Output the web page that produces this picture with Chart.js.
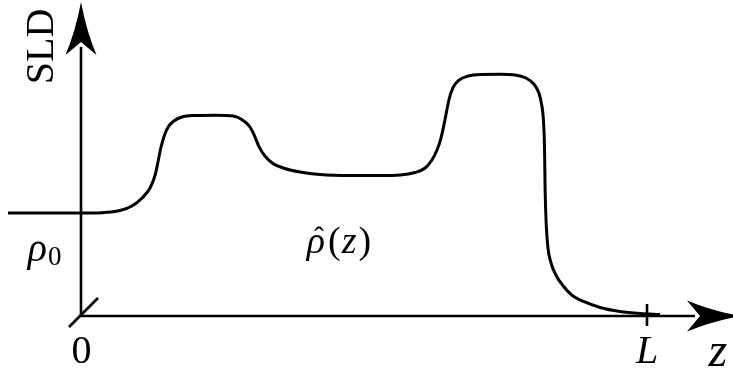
<!DOCTYPE html>
<html>
<head>
<meta charset="utf-8">
<script src="https://cdn.jsdelivr.net/npm/chart.js@4"></script>
<style>
    html, body { margin: 0; padding: 0; background: #fff; }
    #profile { display: block; }
    .warm { position: absolute; left: -999px; top: 0; font-family: "Liberation Serif", serif; }
</style>
</head>
<body>
<span class="warm">SLD 0 <i>L z ρ</i></span>
<canvas id="profile" width="733" height="373"></canvas>
<script>
// SLD profile along z (z in units where the film ends at L = 10, rho0 = 1)
const zValues = [
    -1.29, -0.37, 0.16, 0.42, 0.69, 0.90, 1.08, 1.22, 1.31, 1.36, 1.41, 1.47, 1.54, 1.64, 1.78,
    2.01, 2.37, 2.69, 2.84, 2.97, 3.06, 3.14, 3.25, 3.39, 3.60, 3.87, 4.22, 4.75, 5.28, 5.64,
    5.90, 6.08, 6.20, 6.29, 6.36, 6.43, 6.50, 6.57, 6.68, 6.84, 7.05, 7.40, 7.67, 7.86, 8.00,
    8.09, 8.14, 8.17, 8.19, 8.20, 8.22, 8.25, 8.30, 8.39, 8.52, 8.67, 8.90, 9.17, 9.52, 9.88, 10.23
];
const sldValues = [
    1.00, 1.00, 1.00, 1.005, 1.024, 1.068, 1.146, 1.243, 1.369, 1.495, 1.631, 1.748, 1.835, 1.893, 1.932,
    1.947, 1.950, 1.942, 1.908, 1.845, 1.757, 1.650, 1.553, 1.481, 1.432, 1.398, 1.374, 1.364, 1.364, 1.369,
    1.393, 1.437, 1.515, 1.612, 1.728, 1.903, 2.097, 2.214, 2.291, 2.330, 2.345, 2.347, 2.340, 2.311, 2.252,
    2.165, 2.049, 1.903, 1.612, 1.223, 0.883, 0.660, 0.524, 0.398, 0.291, 0.204, 0.136, 0.083, 0.044, 0.024, 0.015
];

// axis ticks
const tickPositions = [0, 10];
const tickLabels = ['0', 'L'];

const SERIF = '"Liberation Serif", "Times New Roman", serif';

const points = zValues.map((z, i) => ({ x: z, y: sldValues[i] }));

function drawArrow(ctx, tipX, tipY, dx, dy) {
    // stealth-style head pointing along (dx, dy)
    const len = 53, half = 15.5, notch = 13;
    const px = -dy, py = dx;
    const bx = tipX - dx * len, by = tipY - dy * len;
    const nx = tipX - dx * (len - notch), ny = tipY - dy * (len - notch);
    ctx.beginPath();
    ctx.moveTo(tipX, tipY);
    ctx.quadraticCurveTo(tipX - dx * len * 0.55 + px * half * 0.35, tipY - dy * len * 0.55 + py * half * 0.35,
        bx + px * half, by + py * half);
    ctx.lineTo(nx, ny);
    ctx.lineTo(bx - px * half, by - py * half);
    ctx.quadraticCurveTo(tipX - dx * len * 0.55 - px * half * 0.35, tipY - dy * len * 0.55 - py * half * 0.35,
        tipX, tipY);
    ctx.closePath();
    ctx.fill();
}

const axesPlugin = {
    id: 'sketchAxes',
    beforeDatasetsDraw(chart) {
        const ctx = chart.ctx;
        const xs = chart.scales.x, ys = chart.scales.y;
        const ox = xs.getPixelForValue(0), oy = ys.getPixelForValue(0);
        ctx.save();
        ctx.strokeStyle = '#000';
        ctx.fillStyle = '#000';
        ctx.lineWidth = 2.6;
        ctx.lineCap = 'butt';

        // vertical SLD axis
        const topY = 2;
        ctx.beginPath();
        ctx.moveTo(ox, oy);
        ctx.lineTo(ox, topY + 45);
        ctx.stroke();
        drawArrow(ctx, ox, topY, 0, -1);

        // horizontal z axis
        const tipX = 740;
        ctx.beginPath();
        ctx.moveTo(ox, oy);
        ctx.lineTo(tipX - 45, oy);
        ctx.stroke();
        drawArrow(ctx, tipX, oy, 1, 0);

        // ticks: slanted at the origin, upright at L
        ctx.beginPath();
        ctx.moveTo(ox - 12, oy + 11);
        ctx.lineTo(ox + 17, oy - 18);
        const lx = xs.getPixelForValue(tickPositions[1]);
        ctx.moveTo(lx, oy - 12);
        ctx.lineTo(lx, oy + 10);
        ctx.stroke();

        // tick labels
        ctx.textAlign = 'center';
        ctx.textBaseline = 'alphabetic';
        ctx.font = '40px ' + SERIF;
        ctx.fillText(tickLabels[0], xs.getPixelForValue(tickPositions[0]) + 0.5, ys.getPixelForValue(-0.456));
        ctx.font = 'italic 40px ' + SERIF;
        ctx.fillText(tickLabels[1], xs.getPixelForValue(tickPositions[1]), ys.getPixelForValue(-0.456));

        // axis titles
        ctx.font = 'italic 48px ' + SERIF;
        ctx.fillText('z', xs.getPixelForValue(11.25), ys.getPixelForValue(-0.485));

        ctx.save();
        ctx.translate(xs.getPixelForValue(-0.495), ys.getPixelForValue(2.617));
        ctx.rotate(-Math.PI / 2);
        ctx.font = '40px ' + SERIF;
        ctx.fillText('SLD', 0, 0);
        ctx.restore();

        // rho_0 label
        ctx.textAlign = 'left';
        let x = xs.getPixelForValue(-0.94), y = ys.getPixelForValue(0.53);
        ctx.font = 'italic 40px ' + SERIF;
        ctx.fillText('ρ', x, y);
        x += ctx.measureText('ρ').width + 1;
        ctx.font = '27px ' + SERIF;
        ctx.fillText('0', x, y + 4);

        // rho-hat(z) label
        x = xs.getPixelForValue(3.99);
        y = ys.getPixelForValue(0.61);
        ctx.font = 'italic 38px ' + SERIF;
        const rw = ctx.measureText('ρ').width;
        ctx.fillText('ρ', x, y);
        ctx.font = '30px ' + SERIF;
        ctx.textAlign = 'center';
        ctx.fillText('ˆ', x + rw / 2 + 3, y - 6);
        ctx.textAlign = 'left';
        x += rw + 3;
        ctx.font = '38px ' + SERIF;
        ctx.fillText('(', x, y);
        x += ctx.measureText('(').width + 1;
        ctx.font = 'italic 38px ' + SERIF;
        ctx.fillText('z', x, y);
        x += ctx.measureText('z').width + 2;
        ctx.font = '38px ' + SERIF;
        ctx.fillText(')', x, y);

        ctx.restore();
    }
};

function buildChart() {
    const ctx = document.getElementById('profile').getContext('2d');
    return new Chart(ctx, {
        type: 'line',
        data: {
            datasets: [{
                data: points,
                borderColor: '#000',
                borderWidth: 3,
                pointRadius: 0,
                fill: false,
                cubicInterpolationMode: 'monotone'
            }]
        },
        options: {
            responsive: false,
            animation: false,
            devicePixelRatio: 1,
            layout: { padding: 0 },
            plugins: {
                legend: { display: false },
                tooltip: { enabled: false }
            },
            scales: {
                x: { type: 'linear', min: -81 / 56.6, max: 652 / 56.6, display: false },
                y: { type: 'linear', min: -57 / 103, max: 316 / 103, display: false }
            }
        },
        plugins: [axesPlugin]
    });
}

Promise.all([
    document.fonts.load('40px "Liberation Serif"'),
    document.fonts.load('italic 40px "Liberation Serif"')
]).then(buildChart, buildChart);
</script>
</body>
</html>
